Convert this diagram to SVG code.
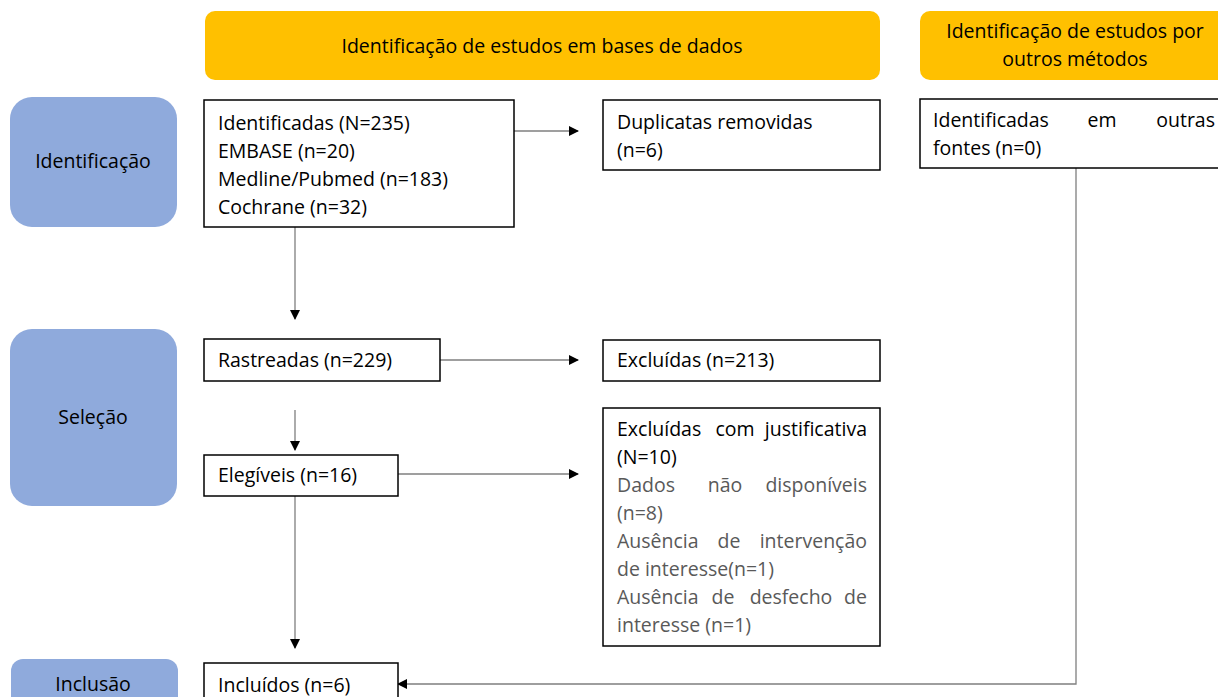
<svg xmlns="http://www.w3.org/2000/svg" width="1218" height="697" viewBox="0 0 1218 697">
<defs>
<style>
text{font-family:"Open Sans","Noto Sans",sans-serif;font-size:19.5px;fill:#000}
.g{fill:#595959}
.m{text-anchor:middle}
.e{text-anchor:end}
.hdr{fill:#FFC000}
.stage{fill:#8FAADC}
.box{fill:#fff;stroke:#000;stroke-width:1.5}
.c{fill:none;stroke:#7f7f7f;stroke-width:1.3}
</style>
<marker id="ah" markerWidth="10" markerHeight="10" refX="9" refY="5" orient="auto" markerUnits="userSpaceOnUse">
<path d="M0,0 L10,5 L0,10 z" fill="#000"/>
</marker>
</defs>
<rect width="1218" height="697" fill="#fff"/>
<g id="hdr1"><rect class="hdr" x="205" y="11" width="675" height="69" rx="10"/><text class="m" x="542" y="53">Identificação de estudos em bases de dados</text></g>
<g id="hdr2"><rect class="hdr" x="920" y="11" width="310" height="69" rx="10"/><text class="m" x="1075" y="38">Identificação de estudos por</text><text class="m" x="1075" y="66">outros métodos</text></g>
<g id="st1"><rect class="stage" x="10" y="97" width="167" height="130" rx="22"/><text class="m" x="93" y="168">Identificação</text></g>
<g id="st2"><rect class="stage" x="10" y="329" width="167" height="177" rx="22"/><text class="m" x="93" y="424">Seleção</text></g>
<g id="st3"><rect class="stage" x="11" y="659" width="167" height="60" rx="12"/><text class="m" x="93" y="691">Inclusão</text></g>
<g id="connectors">
<line class="c" x1="514" y1="131" x2="578" y2="131" marker-end="url(#ah)"/>
<line class="c" x1="295" y1="227" x2="295" y2="319" marker-end="url(#ah)"/>
<line class="c" x1="440" y1="360" x2="578" y2="360" marker-end="url(#ah)"/>
<line class="c" x1="295" y1="410" x2="295" y2="450" marker-end="url(#ah)"/>
<line class="c" x1="398" y1="474" x2="578" y2="474" marker-end="url(#ah)"/>
<line class="c" x1="295" y1="496" x2="295" y2="648" marker-end="url(#ah)"/>
<polyline class="c" points="1076,168 1076,684 398,684" marker-end="url(#ah)"/>
</g>
<g id="n1"><rect class="box" x="204" y="100" width="310" height="127"/>
<text x="218" y="130">Identificadas (N=235)</text><text x="218" y="158">EMBASE (n=20)</text><text x="218" y="186">Medline/Pubmed (n=183)</text><text x="218" y="214">Cochrane (n=32)</text></g>
<g id="n2"><rect class="box" x="603" y="100" width="277" height="70"/><text x="617" y="129">Duplicatas removidas</text><text x="617" y="157">(n=6)</text></g>
<g id="n3"><rect class="box" x="920" y="99" width="310" height="69"/><text x="933" y="127">Identificadas</text><text class="m" x="1102" y="127">em</text><text class="e" x="1215" y="127">outras</text><text x="933" y="155">fontes (n=0)</text></g>
<g id="n4"><rect class="box" x="204" y="339" width="236" height="42"/><text x="218" y="367">Rastreadas (n=229)</text></g>
<g id="n5"><rect class="box" x="603" y="340" width="277" height="41"/><text x="617" y="367">Excluídas (n=213)</text></g>
<g id="n6"><rect class="box" x="204" y="455" width="194" height="41"/><text x="218" y="482">Elegíveis (n=16)</text></g>
<g id="n7"><rect class="box" x="603" y="408" width="277" height="238"/>
<text x="617" y="436">Excluídas</text><text class="m" x="735" y="436">com</text><text class="e" x="867" y="436">justificativa</text>
<text x="617" y="464">(N=10)</text>
<text class="g" x="617" y="492">Dados</text><text class="g m" x="725" y="492">não</text><text class="g e" x="867" y="492">disponíveis</text>
<text class="g" x="617" y="520">(n=8)</text>
<text class="g" x="617" y="548">Ausência</text><text class="g m" x="729" y="548">de</text><text class="g e" x="867" y="548">intervenção</text>
<text class="g" x="617" y="576">de interesse(n=1)</text>
<text class="g" x="617" y="604">Ausência</text><text class="g m" x="723" y="604">de</text><text class="g m" x="791" y="604">desfecho</text><text class="g e" x="867" y="604">de</text>
<text class="g" x="617" y="632">interesse (n=1)</text></g>
<g id="n8"><rect class="box" x="204" y="663" width="194" height="50"/><text x="218" y="692">Incluídos (n=6)</text></g>
</svg>
